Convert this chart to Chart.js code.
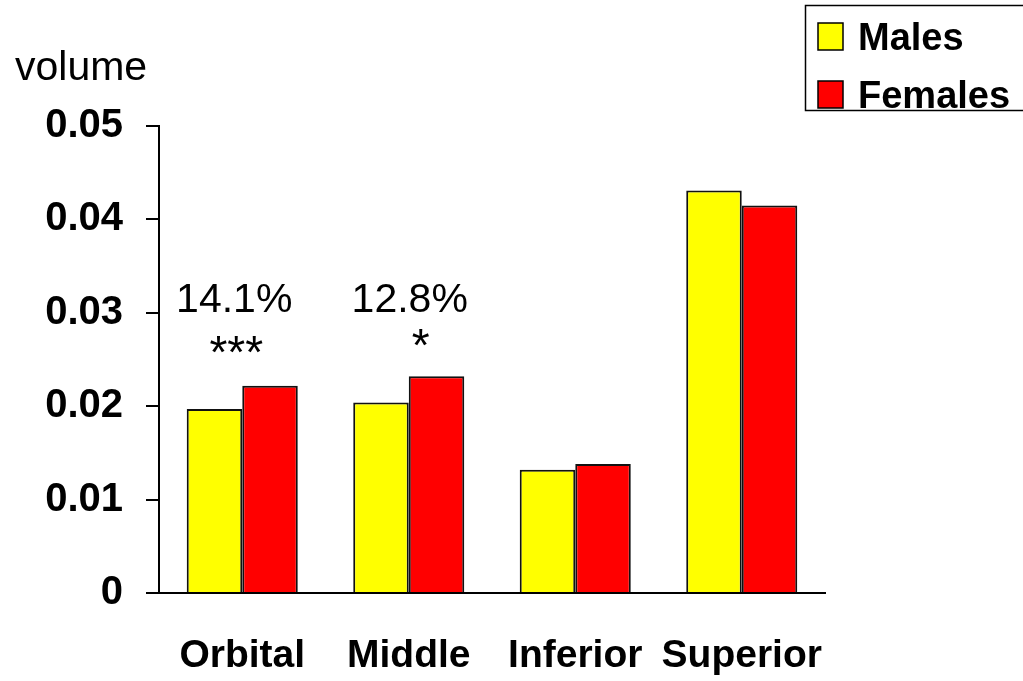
<!DOCTYPE html>
<html>
<head>
<meta charset="utf-8">
<script src="https://cdn.jsdelivr.net/npm/chart.js@4.4.1/dist/chart.umd.min.js"></script>
<style>
  body { margin: 0; background: #fff; }
  canvas { display: block; }
</style>
</head>
<body>
<canvas id="volumeChart" width="1023" height="681"></canvas>
<script>
const regions = ["Orbital", "Middle", "Inferior", "Superior"];
const males = [0.0197, 0.0204, 0.0132, 0.0431];
const females = [0.0222, 0.0232, 0.0138, 0.0415];
const yTicks = [0, 0.01, 0.02, 0.03, 0.04, 0.05];
const diffLabels = ["14.1%", "12.8%", "", ""];
const sigLabels = ["***", "*", "", ""];

const FONT = "'Liberation Sans', Arial, sans-serif";

// axis title, percent/significance notes and the boxed legend
const extrasPlugin = {
    id: "extras",
    afterDraw(chart) {
        const ctx = chart.ctx,
            x = chart.scales.x;
        ctx.save();
        ctx.fillStyle = "#000";
        ctx.textBaseline = "alphabetic";

        ctx.font = "41px " + FONT;
        ctx.textAlign = "left";
        ctx.fillText("volume", 15, 80);

        ctx.textAlign = "center";
        const diffShift = [-8, 1, 0, 0],
            sigShift = [-6, 12, 0, 0],
            sigBase = [368, 361, 0, 0];
        for (let i = 0; i < regions.length; i++) {
            const cx = x.getPixelForValue(i);
            if (diffLabels[i]) {
                ctx.font = "41px " + FONT;
                ctx.fillText(diffLabels[i], cx + diffShift[i], 312);
            }
            if (sigLabels[i]) {
                ctx.font = "46px " + FONT;
                ctx.fillText(sigLabels[i], cx + sigShift[i], sigBase[i]);
            }
        }

        // legend
        ctx.lineWidth = 1.5;
        ctx.strokeStyle = "#000";
        ctx.strokeRect(805.5, 5.5, 240, 105);
        const ds = chart.data.datasets,
            rows = [23, 81];
        ctx.textAlign = "left";
        ctx.font = "bold 38px " + FONT;
        for (let i = 0; i < ds.length; i++) {
            ctx.fillStyle = ds[i].backgroundColor;
            ctx.fillRect(818, rows[i], 25, 27);
            ctx.lineWidth = 1.5;
            ctx.strokeRect(818, rows[i], 25, 27);
            ctx.fillStyle = "#000";
            ctx.fillText(ds[i].label, 858, rows[i] + 27);
        }
        ctx.restore();
    },
};

new Chart(document.getElementById("volumeChart"), {
    type: "bar",
    data: {
        labels: regions,
        datasets: [{
            label: "Males",
            data: males,
            backgroundColor: "#ffff00",
            borderColor: "#111",
            borderWidth: 2,
        }, {
            label: "Females",
            data: females,
            backgroundColor: "#ff0000",
            borderColor: "#111",
            borderWidth: 2,
        }],
    },
    options: {
        responsive: false,
        animation: false,
        categoryPercentage: 0.667,
        barPercentage: 1,
        layout: {padding: {top: 126, right: 198, bottom: 0, left: 0}},
        plugins: {
            legend: {display: false},
            tooltip: {enabled: false},
        },
        scales: {
            x: {
                grid: {display: true, drawOnChartArea: false, drawTicks: false},
                border: {display: true, color: "#000", width: 2},
                ticks: {
                    color: "#000",
                    padding: 40,
                    maxRotation: 0,
                    minRotation: 0,
                    autoSkip: false,
                    font: {family: FONT, size: 39, weight: "bold"},
                },
                afterFit(scale) { scale.height = 88; },
            },
            y: {
                min: yTicks[0],
                max: yTicks[yTicks.length - 1],
                afterBuildTicks(scale) {
                    scale.ticks = yTicks.map(v => ({value: v}));
                },
                grid: {drawOnChartArea: false, color: "#000", lineWidth: 2, tickLength: 13},
                border: {display: true, color: "#000", width: 2},
                ticks: {
                    color: "#000",
                    padding: 23,
                    font: {family: FONT, size: 40, weight: "bold"},
                    callback: v => (v === 0 ? "0" : v.toFixed(2)),
                },
                afterFit(scale) { scale.width = 159; },
            },
        },
    },
    plugins: [extrasPlugin],
});
</script>
</body>
</html>
